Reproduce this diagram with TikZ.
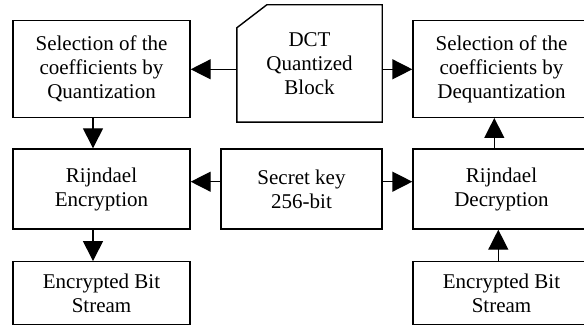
\documentclass[tikz,border=0pt]{standalone}
\usepackage{fontspec}
\setmainfont{Liberation Serif}
\usetikzlibrary{arrows.meta}
\begin{document}
\begin{tikzpicture}[x=1pt,y=-1pt,
  box/.style={draw,line width=1.4pt,minimum width=#1,inner sep=0pt,align=center,
    font=\fontsize{21}{24}\selectfont},
  arr/.style={line width=1.4pt,-{Triangle[length=20pt 0,width=20pt 0]}}]
\useasboundingbox (0,0) rectangle (584,326);
% top row
\node[box=177pt,minimum height=96.6pt] (selq) at (101.5,69) {Selection of the\\coefficients by\\Quantization};
\node[box=177pt,minimum height=96.6pt] (seld) at (501.5,69) {Selection of the\\coefficients by\\Dequantization};
\node[inner sep=0pt,minimum width=145pt,minimum height=117pt,align=center,
  font=\fontsize{21}{24}\selectfont] (dct) at (309.5,63.5) {DCT\\Quantized\\Block};
\draw[line width=1.4pt,line join=miter] ([yshift=-23pt]dct.north west) -- ([xshift=30pt]dct.north west)
  -- (dct.north east) -- (dct.south east) -- (dct.south west) -- cycle;
% middle row
\node[box=177pt,minimum height=80pt] (enc) at (101.5,189) {Rijndael\\Encryption};
\node[box=161pt,minimum height=80pt] (key) at (301.5,189) {Secret key\\256-bit};
\node[box=177pt,minimum height=80pt] (dec) at (501.5,189) {Rijndael\\Decryption};
% bottom row
\node[box=177pt,minimum height=62.5pt] (bsl) at (101.5,293) {Encrypted Bit\\Stream};
\node[box=177pt,minimum height=62.5pt] (bsr) at (501.5,293) {Encrypted Bit\\Stream};
% arrows
\draw[arr] (dct.west |- 0,69.3) -- (selq.east |- 0,69.3);
\draw[arr] (dct.east |- 0,69.3) -- (seld.west |- 0,69.3);
\draw[arr] (selq.south -| 93,0) -- (enc.north -| 93,0);
\draw[arr] (enc.south -| 93,0) -- (bsl.north -| 93,0);
\draw[arr] (key.west |- 0,181.7) -- (enc.east |- 0,181.7);
\draw[arr] (key.east |- 0,181.7) -- (dec.west |- 0,181.7);
\draw[arr] (dec.north -| 494.3,0) -- (seld.south -| 494.3,0);
\draw[arr] (bsr.north -| 498.3,0) -- (dec.south -| 498.3,0);
\end{tikzpicture}
\end{document}
